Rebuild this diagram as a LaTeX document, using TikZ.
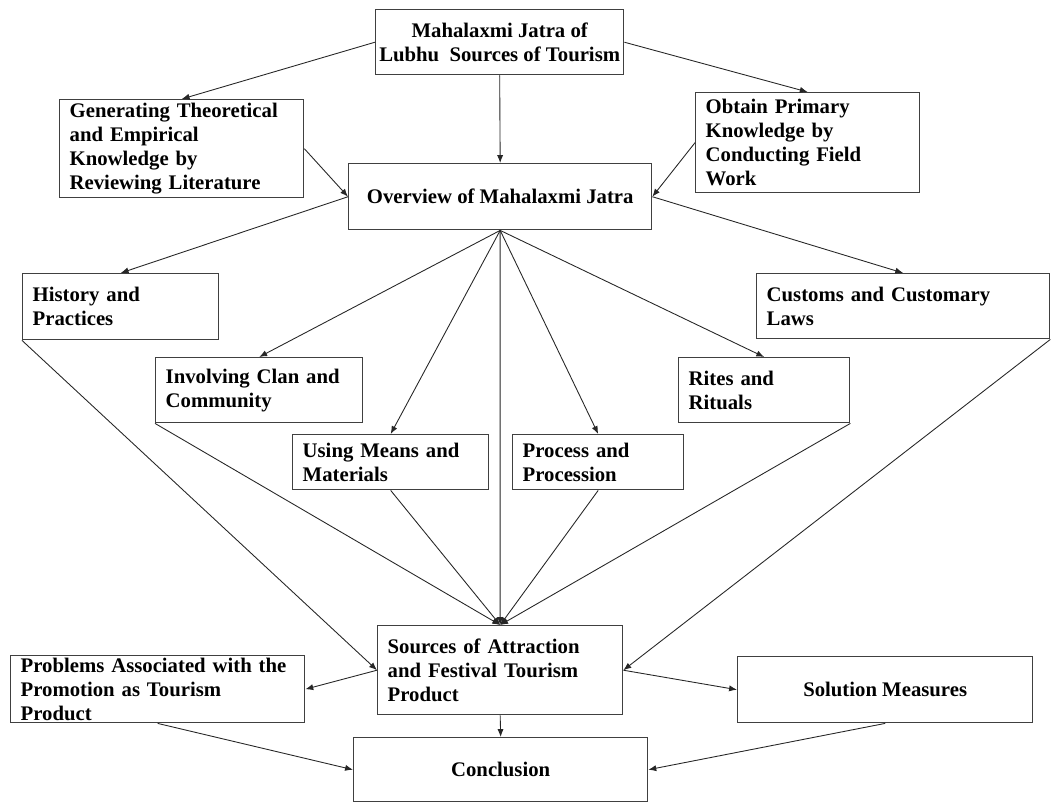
\documentclass[tikz,border=0pt]{standalone}
\usepackage{fontspec}
\setmainfont{Liberation Serif}
\usepackage{tikz}
\usetikzlibrary{arrows.meta}

\begin{document}
\begin{tikzpicture}[x=0.02cm,y=-0.02cm,
	box/.style={draw=black!75,line width=0.8pt,rectangle,anchor=north west,inner xsep=0.2cm,inner ysep=0pt,
		align=left,font=\fontsize{11.8}{13.7}\selectfont\bfseries},
	cbox/.style={box,align=center,inner xsep=0pt},
	link/.style={draw=black!85,line width=0.5pt,-{Latex[length=4.5pt,width=3.5pt]}}]
	% page frame (pixels of the reference)
	\useasboundingbox (0,0) rectangle (1051,802);
	
	% top and first level
	\node[cbox,minimum width=4.96cm,minimum height=1.3cm] (mahal) at (375,9) {Mahalaxmi Jatra of\\Lubhu\ \ Sources of Tourism};
	\node[box,text width=4.48cm,minimum height=1.96cm] (gen) at (59,99) {Generating Theoretical\\and Empirical\\Knowledge by\\Reviewing Literature};
	\node[box,text width=4.08cm,minimum height=2.0cm] (obtain) at (695,92) {Obtain Primary\\Knowledge by\\Conducting Field\\Work};
	\node[cbox,minimum width=6.06cm,minimum height=1.32cm] (overview) at (348,163) {Overview of Mahalaxmi Jatra};
	
	% themes
	\node[box,text width=3.52cm,minimum height=1.32cm] (history) at (22,273) {History and\\Practices};
	\node[box,text width=5.46cm,minimum height=1.3cm] (customs) at (756,273) {Customs and Customary\\Laws};
	\node[box,text width=3.74cm,minimum height=1.3cm] (involving) at (155,357) {Involving Clan and\\Community};
	\node[box,text width=3.02cm,minimum height=1.3cm] (rites) at (678,357) {Rites and\\Rituals};
	\node[box,text width=3.52cm,minimum height=1.1cm] (means) at (292,434) {Using Means and\\Materials};
	\node[box,text width=3.02cm,minimum height=1.1cm] (process) at (512,434) {Process and\\Procession};
	
	% bottom part
	\node[box,text width=4.5cm,minimum height=1.78cm] (sources) at (377,625) {Sources of Attraction\\and Festival Tourism\\Product};
	\node[box,text width=5.48cm,minimum height=1.34cm] (problems) at (10,655) {Problems Associated with the\\Promotion as Tourism\\Product};
	\node[cbox,minimum width=5.9cm,minimum height=1.32cm] (solution) at (737,656) {Solution Measures};
	\node[cbox,minimum width=5.88cm,minimum height=1.28cm] (conclusion) at (353,737) {Conclusion};
	
	% arrows
	\draw[link] (mahal.west) -- (gen.north);
	\draw[link] (mahal.east) -- (obtain.north);
	\draw[link] (mahal.south) -- (overview.north);
	\draw[link] (gen.east) -- (overview.west);
	\draw[link] (obtain.west) -- (overview.east);
	\draw[link] (overview.west) -- (history.north);
	\draw[link] (overview.east) -- (customs.north);
	\foreach \t in {involving,means,process,rites,sources}
		\draw[link] (overview.south) -- (\t.north);
	\draw[link] (history.south west) -- (sources.west);
	\draw[link] (customs.south east) -- (sources.east);
	\foreach \t in {involving.south west,means.south,process.south,rites.south east}
		\draw[link] (\t) -- (sources.north);
	\draw[link] (sources.west) -- (problems.east);
	\draw[link] (sources.east) -- (solution.west);
	\draw[link] (sources.south) -- (conclusion.north);
	\draw[link] (problems.south) -- (conclusion.west);
	\draw[link] (solution.south) -- (conclusion.east);
\end{tikzpicture}
\end{document}
